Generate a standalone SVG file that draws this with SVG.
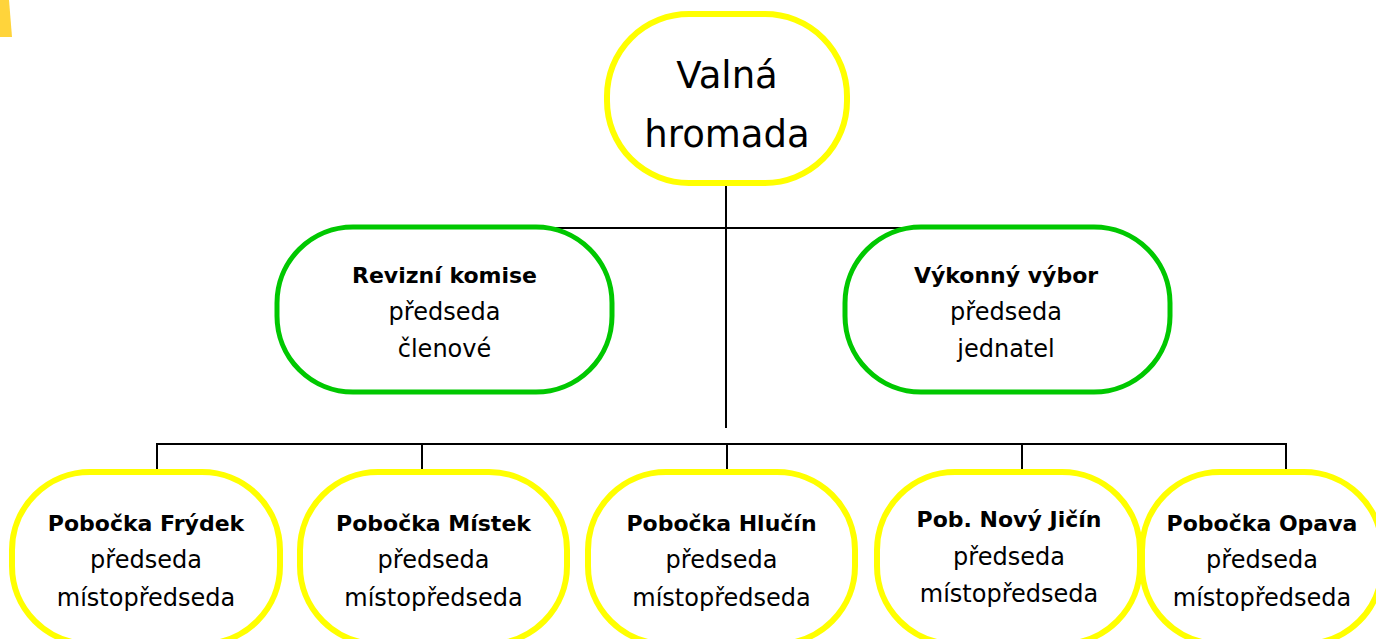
<svg xmlns="http://www.w3.org/2000/svg" width="1376" height="639" viewBox="0 0 1376 639">
<style>
.conn line{stroke:#000;stroke-width:2;fill:none}
.y{fill:#fff;stroke:#ffff00;stroke-width:6}
.g{fill:#fff;stroke:#00c800;stroke-width:5}
text{font-family:"DejaVu Sans","Liberation Sans",sans-serif;fill:#000;text-anchor:middle}
.t{font-size:24px}
.b{font-size:22px;font-weight:bold}
.big{font-size:37px}
</style>
<polygon points="0,0 9,0 12,37 0,37" fill="#ffd43b"/>
<g id="connectors" class="conn">
<line x1="726" y1="184" x2="726" y2="428"/>
<line x1="444" y1="228" x2="1007" y2="228"/>
<line x1="157" y1="444" x2="1286" y2="444"/>
<line x1="157" y1="443" x2="157" y2="473"/>
<line x1="422" y1="443" x2="422" y2="473"/>
<line x1="727" y1="443" x2="727" y2="473"/>
<line x1="1022" y1="443" x2="1022" y2="473"/>
<line x1="1286" y1="443" x2="1286" y2="473"/>
</g>
<g id="valna-hromada">
<rect class="y" x="607" y="14" width="240" height="169" rx="82" ry="82"/>
<text class="big" x="727" y="88">Valná</text>
<text class="big" x="727" y="147">hromada</text>
</g>
<g id="revizni-komise">
<rect class="g" x="277" y="227" width="335" height="165" rx="76" ry="76"/>
<text class="b" x="444.5" y="283">Revizní komise</text>
<text class="t" x="444.5" y="320">předseda</text>
<text class="t" x="444.5" y="357">členové</text>
</g>
<g id="vykonny-vybor">
<rect class="g" x="845" y="227" width="325" height="165" rx="76" ry="76"/>
<text class="b" x="1006" y="283">Výkonný výbor</text>
<text class="t" x="1006" y="320">předseda</text>
<text class="t" x="1006" y="357">jednatel</text>
</g>
<g id="pobocka-frydek">
<rect class="y" x="12" y="472" width="268" height="172" rx="78" ry="78"/>
<text class="b" x="146" y="531">Pobočka Frýdek</text>
<text class="t" x="146" y="568">předseda</text>
<text class="t" x="146" y="606">místopředseda</text>
</g>
<g id="pobocka-mistek">
<rect class="y" x="300" y="472" width="267" height="172" rx="78" ry="78"/>
<text class="b" x="433.5" y="531">Pobočka Místek</text>
<text class="t" x="433.5" y="568">předseda</text>
<text class="t" x="433.5" y="606">místopředseda</text>
</g>
<g id="pobocka-hlucin">
<rect class="y" x="588" y="472" width="267" height="172" rx="78" ry="78"/>
<text class="b" x="721.5" y="531">Pobočka Hlučín</text>
<text class="t" x="721.5" y="568">předseda</text>
<text class="t" x="721.5" y="606">místopředseda</text>
</g>
<g id="pobocka-novy-jicin">
<rect class="y" x="877" y="472" width="263" height="172" rx="78" ry="78"/>
<text class="b" x="1009" y="527">Pob. Nový Jičín</text>
<text class="t" x="1009" y="565">předseda</text>
<text class="t" x="1009" y="602">místopředseda</text>
</g>
<g id="pobocka-opava">
<rect class="y" x="1142" y="472" width="240" height="172" rx="78" ry="78"/>
<text class="b" x="1262" y="531">Pobočka Opava</text>
<text class="t" x="1262" y="568">předseda</text>
<text class="t" x="1262" y="606">místopředseda</text>
</g>
</svg>
